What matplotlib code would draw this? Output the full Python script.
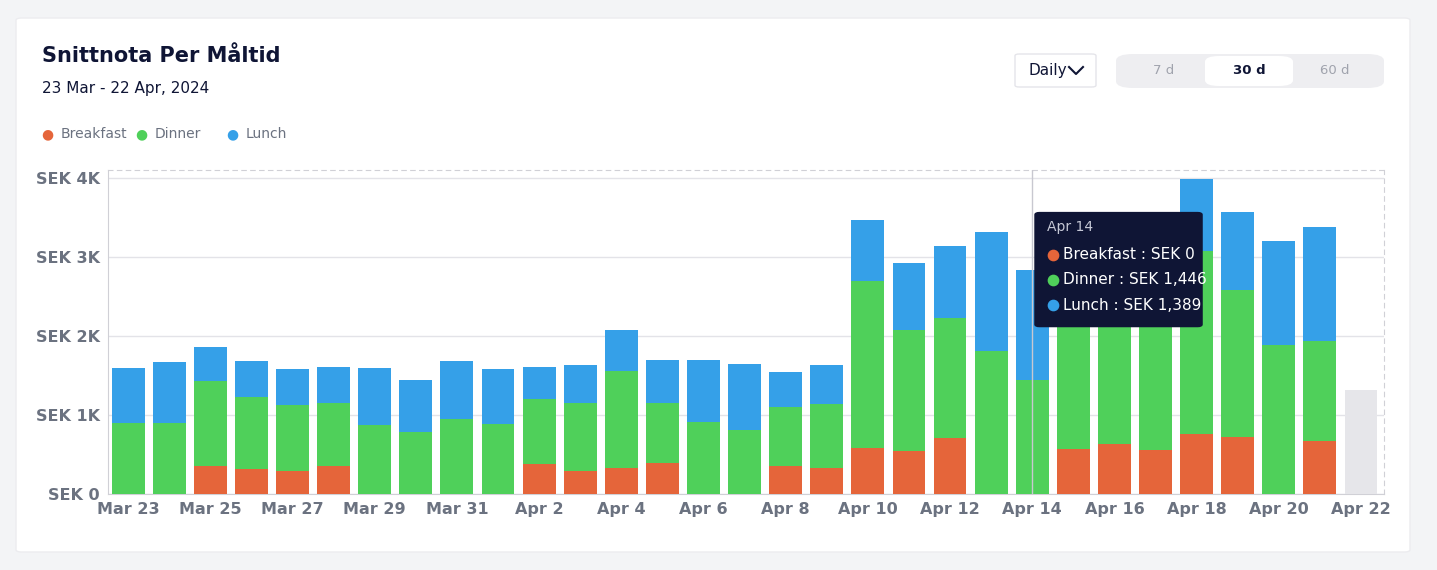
import matplotlib.pyplot as plt
from matplotlib.patches import FancyBboxPatch
from matplotlib.lines import Line2D

days = ["Mar 23", "Mar 24", "Mar 25", "Mar 26", "Mar 27", "Mar 28", "Mar 29", "Mar 30", "Mar 31",
        "Apr 1", "Apr 2", "Apr 3", "Apr 4", "Apr 5", "Apr 6", "Apr 7", "Apr 8", "Apr 9", "Apr 10",
        "Apr 11", "Apr 12", "Apr 13", "Apr 14", "Apr 15", "Apr 16", "Apr 17", "Apr 18", "Apr 19",
        "Apr 20", "Apr 21"]
tick_labels = ["Mar 23", "Mar 25", "Mar 27", "Mar 29", "Mar 31", "Apr 2", "Apr 4", "Apr 6",
               "Apr 8", "Apr 10", "Apr 12", "Apr 14", "Apr 16", "Apr 18", "Apr 20", "Apr 22"]
breakfast = [0, 0, 354, 316, 291, 354, 0, 0, 0, 0, 380, 291, 329, 392, 0, 0, 354, 329, 582,
             544, 709, 0, 0, 570, 633, 557, 759, 722, 0, 671]
dinner = [899, 899, 1076, 912, 836, 798, 873, 785, 949, 886, 823, 861, 1228, 760, 911, 810, 747, 810,
          2114, 1532, 1519, 1810, 1446, 1650, 1670, 1790, 2317, 1860, 1886, 1266]
lunch = [696, 772, 431, 456, 455, 456, 722, 658, 735, 696, 405, 481, 519, 544, 785, 836, 443, 494,
         772, 848, 911, 1506, 1389, 1050, 1000, 1050, 911, 988, 1317, 1443]
partial_total = 1316  # Apr 22, still in progress

C_B, C_D, C_L = "#e5653a", "#4fd05a", "#35a0e8"
TXT = "#0f1535"

fig = plt.figure(figsize=(14.37, 5.7), dpi=100, facecolor="#f3f4f6")
fig.patches.append(FancyBboxPatch((16 / 1437, 18 / 570), 1394 / 1437, 534 / 570,
                                  boxstyle="round,pad=0,rounding_size=0.004",
                                  transform=fig.transFigure, fc="white", ec="#ececef", zorder=-5))

ax = fig.add_axes([108 / 1437, 1 - 494 / 570, 1276 / 1437, 324 / 570], zorder=2)
ax.set_facecolor("none")
x = list(range(len(days)))
bottom_l = [b + d for b, d in zip(breakfast, dinner)]
ax.bar(x, breakfast, width=0.8, color=C_B, zorder=3)
ax.bar(x, dinner, width=0.8, bottom=breakfast, color=C_D, zorder=3)
ax.bar(x, lunch, width=0.8, bottom=bottom_l, color=C_L, zorder=3)
ax.bar([len(days)], [partial_total], width=0.8, color="#e6e6ea", zorder=3)

ax.set_xlim(-0.49, 30.56)
ax.set_ylim(0, 4100)
ax.set_yticks([0, 1000, 2000, 3000, 4000])
ax.set_yticklabels(["SEK 0", "SEK 1K", "SEK 2K", "SEK 3K", "SEK 4K"])
ax.set_xticks(list(range(0, 31, 2)))
ax.set_xticklabels(tick_labels)
ax.tick_params(length=0, labelsize=11.5, colors="#6b7280", pad=6)
for lab in ax.get_xticklabels() + ax.get_yticklabels():
    lab.set_fontweight("bold")
ax.grid(axis="y", color="#e3e3e8", lw=1, zorder=0)
for s in ["top", "right"]:
    ax.spines[s].set_linestyle((0, (4, 4)))
    ax.spines[s].set_color("#d0d0d6")
ax.spines["left"].set_color("#d0d0d6")
ax.spines["bottom"].set_color("#d0d0d6")
ax.axvline(22, color="#c8c8d0", lw=1, zorder=4)

# tooltip
ax.add_patch(FancyBboxPatch((22.05, 2110), 4.1, 1460, boxstyle="round,pad=0,rounding_size=0.12",
                            fc="#0f1535", ec="none", zorder=6, mutation_aspect=300))
ax.text(22.35, 3380, "Apr 14", color="#c5c8d6", fontsize=10, zorder=7, va="center")
for i, (lbl, c) in enumerate([("Breakfast : SEK 0", C_B), ("Dinner : SEK 1,446", C_D),
                              ("Lunch : SEK 1,389", C_L)]):
    yy = 3030 - i * 320
    ax.scatter([22.5], [yy], s=55, color=c, zorder=7)
    ax.text(22.75, yy, lbl, color="white", fontsize=11, va="center", zorder=7)

fig.text(42 / 1437, 1 - 56 / 570, "Snittnota Per Måltid", fontsize=15, fontweight="bold",
         color=TXT, va="center")
fig.text(42 / 1437, 1 - 89 / 570, "23 Mar - 22 Apr, 2024", fontsize=11, color=TXT, va="center")
for lx, txt, c in [(47, "Breakfast", C_B), (141, "Dinner", C_D), (232, "Lunch", C_L)]:
    fig.text(lx / 1437, 1 - 134 / 570, "●", fontsize=10, color=c, va="center", ha="center")
    fig.text((lx + 14) / 1437, 1 - 134 / 570, txt, fontsize=10, color="#6b7280", va="center")

# controls
fig.patches.append(FancyBboxPatch((1015 / 1437, 1 - 87 / 570), 81 / 1437, 33 / 570,
                                  boxstyle="round,pad=0,rounding_size=0.003",
                                  transform=fig.transFigure, fc="white", ec="#e5e5ea"))
fig.text(1028 / 1437, 1 - 71 / 570, "Daily", fontsize=11, color=TXT, va="center")
fig.add_artist(Line2D([1069 / 1437, 1076 / 1437, 1083 / 1437],
                      [1 - 67 / 570, 1 - 74 / 570, 1 - 67 / 570],
                      transform=fig.transFigure, color=TXT, lw=1.5))
fig.patches.append(FancyBboxPatch((1116 / 1437, 1 - 88 / 570), 268 / 1437, 34 / 570,
                                  boxstyle="round,pad=0,rounding_size=0.012",
                                  transform=fig.transFigure, fc="#eeeef1", ec="none"))
fig.patches.append(FancyBboxPatch((1205 / 1437, 1 - 86 / 570), 88 / 1437, 30 / 570,
                                  boxstyle="round,pad=0,rounding_size=0.01",
                                  transform=fig.transFigure, fc="white", ec="none"))
for bx, t, c, w in [(1164, "7 d", "#a0a3ad", "normal"), (1249, "30 d", TXT, "bold"),
                    (1335, "60 d", "#a0a3ad", "normal")]:
    fig.text(bx / 1437, 1 - 71 / 570, t, fontsize=9.5, color=c, fontweight=w,
             ha="center", va="center")

fig.savefig("out.png", dpi=100, facecolor=fig.get_facecolor())
